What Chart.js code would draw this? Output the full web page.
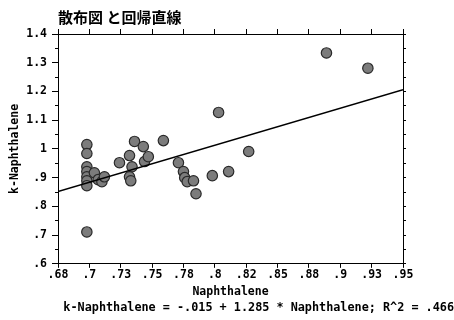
<!DOCTYPE html>
<html><head><meta charset="utf-8">
<script src="https://cdn.jsdelivr.net/npm/chart.js@4/dist/chart.umd.min.js"></script>
<style>html,body{margin:0;padding:0;background:#fff;overflow:hidden}canvas{display:block}</style>
</head><body>
<canvas id="c" width="454" height="320" style="width:454px;height:320px"></canvas>
<script>
const titleText = '散布図 と回帰直線';
const xTitle = 'Naphthalene';
const yTitle = 'k-Naphthalene';
const formulaText = 'k-Naphthalene = -.015 + 1.285 * Naphthalene; R^2 = .466';

const naphthalene = [0.698,0.698,0.698,0.698,0.698,0.698,0.698,0.704,0.707,0.710,0.712,0.698,
  0.724,0.732,0.736,0.734,0.732,0.733,0.743,0.744,0.747,0.759,0.771,0.775,0.776,0.778,0.783,
  0.785,0.798,0.803,0.811,0.827,0.889,0.922];
const kNaphthalene = [1.015,0.984,0.938,0.921,0.903,0.889,0.872,0.917,0.893,0.886,0.903,0.711,
  0.952,0.977,1.026,0.938,0.903,0.889,1.008,0.956,0.973,1.029,0.952,0.921,0.900,0.886,0.889,
  0.844,0.907,1.127,0.921,0.991,1.334,1.281];

const fitX = [0.675, 0.95];
const fitY = [0.852, 1.206];

const xTickLabels = ['.68','.7','.73','.75','.78','.8','.82','.85','.88','.9','.93','.95'];
const yTickLabels = ['.6','.7','.8','.9','1','1.1','1.2','1.3','1.4'];

const X_MIN = 0.675, X_MAX = 0.95, X_STEP = 0.025;
const Y_MIN = 0.6, Y_MAX = 1.4;

const monoFont = "'DejaVu Sans Mono', 'Liberation Mono', monospace";
const black = '#000';

function axisGrid(len){
  return { drawOnChartArea:false, drawTicks:true, tickLength:len, color:black, tickColor:black, lineWidth:1 };
}
const border = { display:true, color:black, width:1 };

new Chart(document.getElementById('c'), {
  data: {
    datasets: [
      {
        type:'line',
        data: fitX.map((x,i)=>({x, y: fitY[i]})),
        borderColor: black, borderWidth: 1.5, pointRadius: 0, fill:false,
        xAxisID:'x', yAxisID:'y', order: 0
      },
      {
        type:'scatter',
        data: naphthalene.map((x,i)=>({x, y: kNaphthalene[i]})),
        pointRadius: 5.2, pointStyle:'circle',
        backgroundColor:'#7c7c7c', borderColor:'#2a2a2a', borderWidth:1.2,
        xAxisID:'x', yAxisID:'y', order: 1
      }
    ]
  },
  options: {
    responsive:false, animation:false, devicePixelRatio:1,
    layout:{ padding:0 },
    plugins:{
      legend:{display:false},
      tooltip:{enabled:false},
      title:{
        display:true, text:titleText, align:'start', fullSize:false, color:black,
        font:{family:"'Noto Sans CJK JP', sans-serif", size:15, weight:'bold', lineHeight:1.2},
        padding:{top:8,bottom:0}
      },
      subtitle:{
        display:true, text:formulaText, position:'bottom', align:'end', fullSize:true, color:black,
        font:{family:monoFont, size:11.8, weight:'bold', lineHeight:1.2},
        padding:{top:0,bottom:5}
      }
    },
    scales:{
      x:{
        type:'linear', position:'bottom', min:X_MIN, max:X_MAX,
        grid:axisGrid(4), border,
        ticks:{ stepSize:X_STEP, autoSkip:false, maxRotation:0, padding:0, color:black,
          font:{family:monoFont, size:11.5, weight:'bold'},
          callback:(v)=>{ const k=Math.round((v-X_MIN)/X_STEP); return xTickLabels[k] ?? ''; } },
        title:{ display:true, text:xTitle, color:black, padding:{top:0,bottom:2},
          font:{family:monoFont, size:11.5, weight:'bold'} },
        afterFit:(s)=>{ s.height = 37; }
      },
      x2:{
        type:'linear', position:'top', min:X_MIN, max:X_MAX,
        grid:axisGrid(5), border,
        ticks:{ display:false, stepSize:X_STEP, autoSkip:false },
        afterFit:(s)=>{ s.height = 8; }
      },
      y:{
        type:'linear', position:'left', min:Y_MIN, max:Y_MAX,
        grid:axisGrid(6), border,
        ticks:{ stepSize:0.1, autoSkip:false, padding:5, color:black,
          font:{family:monoFont, size:11.5, weight:'bold'},
          callback:(v)=>{ const k=Math.round((v-Y_MIN)/0.1); return yTickLabels[k] ?? ''; } },
        title:{ display:true, text:yTitle, color:black, padding:{top:8,bottom:0},
          font:{family:monoFont, size:11.5, weight:'bold'} },
        afterFit:(s)=>{ s.width = 58; }
      },
      yMinor:{
        type:'linear', position:'left', min:Y_MIN, max:Y_MAX, weight:-1,
        grid:axisGrid(3), border:{display:false},
        ticks:{ display:false, stepSize:0.05, autoSkip:false },
        afterFit:(s)=>{ s.width = 0; }
      },
      y2:{
        type:'linear', position:'right', min:Y_MIN, max:Y_MAX,
        grid:axisGrid(3), border,
        ticks:{ display:false, stepSize:0.05, autoSkip:false },
        afterFit:(s)=>{ s.width = 51; }
      }
    }
  }
});
</script>
</body></html>
